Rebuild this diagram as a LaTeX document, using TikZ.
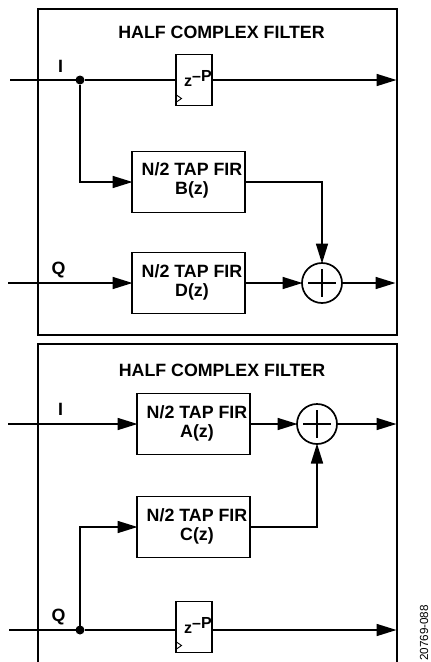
\documentclass[tikz,border=0pt]{standalone}
\usepackage{fontspec}
\setmainfont{Liberation Sans}
\usetikzlibrary{arrows.meta}
\tikzset{
  every node/.style={font=\fontsize{17.8}{19}\selectfont\bfseries,inner sep=0pt,outer sep=0pt},
  wire/.style={line width=1.7pt},
  sig/.style={wire,-{Triangle[length=20pt,width=12pt]},shorten >=-0.5pt},
  firbox/.style={draw,line width=1.7pt,minimum width=113pt,minimum height=61pt},
  delaybox/.style={draw,line width=1.7pt,minimum width=36pt,minimum height=51pt},
  sumnode/.style={draw,circle,line width=1.7pt,minimum size=40pt},
  dotnode/.style={fill,circle,minimum size=9pt},
  frame/.style={line width=1.8pt},
  zlabel/.style={font=\fontsize{16}{17}\selectfont\bfseries},
  firlabel/.style={align=center}
}
\begin{document}
\begin{tikzpicture}[x=1pt,y=-1pt]
\useasboundingbox (0,0) rectangle (431,662);
% frames
\draw[frame] (38,9) rectangle (397,335);
\draw[frame] (38,662) -- (38,344) -- (397,344) -- (397,662);
\node at (221.5,32) {HALF COMPLEX FILTER};
\node at (222,370.5) {HALF COMPLEX FILTER};
% top filter
\coordinate (i1) at (10,80); \coordinate (q1) at (8,283);
\coordinate (o1) at (396,80); \coordinate (o2) at (395,283);
\node[dotnode] (d1) at (80,80) {};
\node[delaybox] (zt) at (194,80) {};
\node[zlabel] at (198,78.5) {z\raisebox{4.5pt}{\char"2013 P}};
\draw[line width=.9pt] (176.5,95) -- (181.5,98.5) -- (176.5,102);
\node[firbox] (b) at (188.5,182) {};
\node[firlabel] at (192,180.5) {N/2 TAP FIR\\B(z)};
\node[firbox] (dd) at (188.5,283) {};
\node[firlabel] at (192,282) {N/2 TAP FIR\\D(z)};
\node[sumnode] (s1) at (322,283) {};
\draw[line width=1.3pt] (s1.center) ++(-14,0) -- ++(28,0) (s1.center) ++(0,-14) -- ++(0,28);
\node at (60.5,66) {I};
\node at (58.5,270) {Q};
\draw[wire] (i1) -- (d1);
\draw[wire] (d1) -- (zt.west |- d1);
\draw[sig] (zt.east |- d1) -- (o1);
\draw[sig] (d1) |- (b.west);
\draw[sig] (b.east) -| (s1.north);
\draw[sig] (q1) -- (dd.west);
\draw[sig] (dd.east) -- (s1.west);
\draw[sig] (s1.east) -- (o2);
% bottom filter
\coordinate (i2) at (8,424); \coordinate (q2) at (9,630);
\coordinate (o3) at (396,424); \coordinate (o4) at (396,630);
\node[firbox] (a) at (193.5,424) {};
\node[firlabel] at (197,423) {N/2 TAP FIR\\A(z)};
\node[firbox] (c) at (193.5,527) {};
\node[firlabel] at (197,526) {N/2 TAP FIR\\C(z)};
\node[sumnode] (s2) at (317,424) {};
\draw[line width=1.3pt] (s2.center) ++(-14,0) -- ++(28,0) (s2.center) ++(0,-14) -- ++(0,28);
\node[dotnode] (d2) at (80,630) {};
\node[delaybox] (zb) at (194,627) {};
\node[zlabel] at (198,625.5) {z\raisebox{4.5pt}{\char"2013 P}};
\draw[line width=.9pt] (176.5,642) -- (181.5,645.5) -- (176.5,649);
\node at (60.5,409) {I};
\node at (58.5,617) {Q};
\draw[sig] (i2) -- (a.west);
\draw[sig] (a.east) -- (s2.west);
\draw[sig] (s2.east) -- (o3);
\draw[sig] (c.east) -| (s2.south);
\draw[sig] (d2) |- (c.west);
\draw[wire] (q2) -- (d2);
\draw[wire] (d2) -- (zb.west |- d2);
\draw[sig] (zb.east |- d2) -- (o4);
\node[rotate=90,font=\fontsize{11.7}{13}\selectfont] at (424,633) {20769-088};
\end{tikzpicture}
\end{document}
